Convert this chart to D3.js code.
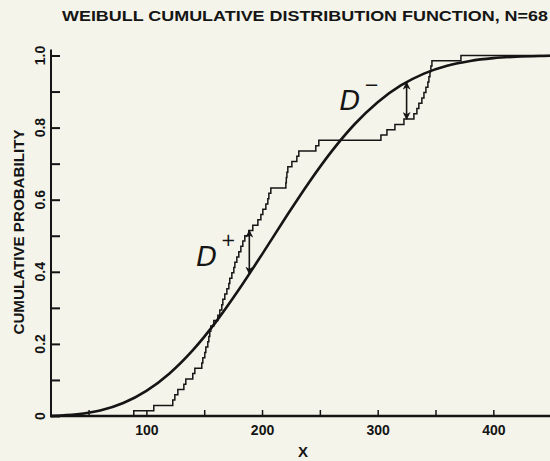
<!DOCTYPE html>
<html>
<head>
<meta charset="utf-8">
<script src="https://cdn.jsdelivr.net/npm/d3@7"></script>
<style>
  html, body { margin: 0; padding: 0; background: #f4f4ea; }
  svg { display: block; }
  text { font-family: "Liberation Sans", Arial, sans-serif; fill: #151515; }
</style>
</head>
<body>
<svg id="chart" width="550" height="461"></svg>
<script>
// Sorted observations (N = 68) behind the empirical CDF
const sampleValues = [
  89.1, 106.4, 122.8, 124.6, 127.2, 132.4, 134.1, 140.1, 141.9, 147.9,
  148.8, 150.5, 151.4, 153.1, 154.0, 154.8, 155.7, 158.3, 161.8, 163.5,
  165.2, 166.1, 167.8, 169.6, 171.3, 172.1, 173.9, 175.6, 176.5, 178.2,
  179.9, 181.7, 183.4, 185.1, 188.6, 192.0, 196.4, 199.0, 200.7, 203.3,
  205.0, 205.9, 207.6, 220.6, 221.0, 221.5, 222.3, 225.8, 230.1, 231.8,
  246.5, 249.1, 302.8, 308.0, 314.9, 322.7, 331.3, 333.9, 335.6, 338.2,
  340.0, 341.7, 343.4, 344.3, 345.2, 346.0, 346.9, 372.0
];

// Fitted Weibull CDF, tabulated along x
const curveX = [17, 20, 40, 60, 80, 100, 120, 140, 160, 180, 200, 220, 240,
                260, 280, 300, 320, 340, 360, 380, 400, 420, 440, 449];
const curveP = [0.0003, 0.0005, 0.0044, 0.0151, 0.0359, 0.0697, 0.1181, 0.1820,
                0.2604, 0.3507, 0.4484, 0.5485, 0.6452, 0.7334, 0.8093, 0.8706,
                0.9169, 0.9498, 0.9716, 0.9850, 0.9926, 0.9966, 0.9986, 0.9991];

// Axis ticks and labels
const xTickValues = [50, 100, 150, 200, 250, 300, 350, 400];
const xLabelValues = [100, 200, 300, 400];
const yTickValues = [0, 0.1, 0.2, 0.3, 0.4, 0.5, 0.6, 0.7, 0.8, 0.9, 1.0];
const yLabelValues = [0, 0.2, 0.4, 0.6, 0.8, 1.0];
const yLabelText = ["0", "0.2", "0.4", "0.6", "0.8", "1.0"];

// Locations of the one-sided K-S distances
const dPlusAt = 189;
const dMinusAt = 325;

const titleText = "WEIBULL  CUMULATIVE  DISTRIBUTION  FUNCTION,  N=68";
const yTitle = "CUMULATIVE  PROBABILITY";
const xTitle = "X";

const ink = "#151515";
const n = sampleValues.length;

const svg = d3.select("#chart");

const x = d3.scaleLinear().domain([17, 449]).range([50.4, 550]);
const y = d3.scaleLinear().domain([0, 1]).range([416, 55.5]);

// Title
svg.append("text")
  .attr("x", 62).attr("y", 20.5)
  .attr("textLength", 486).attr("lengthAdjust", "spacingAndGlyphs")
  .style("font-size", "15.5px")
  .style("font-weight", "bold")
  .text(titleText);

// Y axis: ticks point into the plot, labels rotated
const yAxis = d3.axisLeft(y).tickValues(yTickValues).tickSize(-9).tickFormat("");
const gy = svg.append("g").attr("transform", "translate(51,0)").call(yAxis);
gy.select(".domain").remove();
gy.selectAll(".tick line").attr("stroke", ink).attr("stroke-width", 2);
svg.append("line")
  .attr("x1", 51).attr("x2", 51)
  .attr("y1", y(1) - 6).attr("y2", y(0) + 1)
  .attr("stroke", ink).attr("stroke-width", 2);

svg.append("g").selectAll("text")
  .data(yLabelValues)
  .join("text")
  .attr("transform", (d) => `translate(45,${y(d)}) rotate(-90)`)
  .attr("text-anchor", "middle")
  .style("font-size", "14px")
  .style("font-weight", "bold")
  .text((d, i) => yLabelText[i]);

svg.append("text")
  .attr("transform", "translate(24,232) rotate(-90)")
  .attr("text-anchor", "middle")
  .attr("textLength", 205).attr("lengthAdjust", "spacingAndGlyphs")
  .style("font-size", "14.5px")
  .style("font-weight", "bold")
  .text(yTitle);

// X axis: short ticks upward, labels every 100
const xAxis = d3.axisBottom(x)
  .tickValues(xTickValues)
  .tickSize(-6)
  .tickPadding(9)
  .tickFormat((d) => (xLabelValues.includes(d) ? String(d) : ""));
const gx = svg.append("g").attr("transform", `translate(0,${y(0)})`).call(xAxis);
gx.select(".domain").remove();
gx.selectAll(".tick line").attr("stroke", ink).attr("stroke-width", 1.5);
gx.selectAll(".tick text")
  .attr("fill", ink)
  .style("font-family", "Liberation Sans, Arial, sans-serif")
  .style("font-size", "14px")
  .style("font-weight", "bold");
svg.append("line")
  .attr("x1", 50).attr("x2", 550)
  .attr("y1", y(0)).attr("y2", y(0))
  .attr("stroke", ink).attr("stroke-width", 2.6);

svg.append("text")
  .attr("x", 303).attr("y", 457)
  .attr("text-anchor", "middle")
  .style("font-size", "15px")
  .style("font-weight", "bold")
  .text(xTitle);

// Weibull CDF curve
const curvePts = curveX.map((v, i) => [v, curveP[i]]);
svg.append("path")
  .datum(curvePts)
  .attr("fill", "none")
  .attr("stroke", ink)
  .attr("stroke-width", 2.6)
  .attr("d", d3.line().x((d) => x(d[0])).y((d) => y(d[1])).curve(d3.curveMonotoneX));

// Empirical CDF step function
const ecdfPts = [[17, 0]]
  .concat(sampleValues.map((v, i) => [v, (i + 1) / n]))
  .concat([[449, 1]]);
svg.append("path")
  .datum(ecdfPts)
  .attr("fill", "none")
  .attr("stroke", ink)
  .attr("stroke-width", 1.5)
  .attr("stroke-linejoin", "miter")
  .attr("d", d3.line().x((d) => x(d[0])).y((d) => y(d[1])).curve(d3.curveStepAfter));

// Helpers to evaluate the two CDFs
const ecdfAt = (v) => sampleValues.filter((s) => s <= v).length / n;
const curveAt = d3.scaleLinear().domain(curveX).range(curveP);

// Arrowheads
const defs = svg.append("defs");
defs.append("marker")
  .attr("id", "head")
  .attr("viewBox", "0 0 10 10")
  .attr("refX", 9).attr("refY", 5)
  .attr("markerWidth", 8).attr("markerHeight", 8)
  .attr("markerUnits", "userSpaceOnUse")
  .attr("orient", "auto-start-reverse")
  .append("path")
  .attr("d", "M0,0 L10,5 L0,10 L3,5 z")
  .attr("fill", ink);

function distanceArrow(v, pTop, pBottom) {
  svg.append("line")
    .attr("x1", x(v)).attr("x2", x(v))
    .attr("y1", y(pTop)).attr("y2", y(pBottom))
    .attr("stroke", ink).attr("stroke-width", 1.6)
    .attr("marker-start", "url(#head)")
    .attr("marker-end", "url(#head)");
}

// D+ : empirical above fitted
distanceArrow(dPlusAt, ecdfAt(dPlusAt), curveAt(dPlusAt));
// D- : fitted above empirical
distanceArrow(dMinusAt, curveAt(dMinusAt), ecdfAt(dMinusAt));

const handStyle = (sel) => sel
  .style("font-family", "DejaVu Sans, sans-serif")
  .style("font-style", "italic")
  .style("font-weight", "normal");

const xp = x(dPlusAt);
svg.append("text")
  .attr("x", xp - 53).attr("y", 266)
  .style("font-size", "27px")
  .call(handStyle)
  .text("D");
svg.append("text")
  .attr("x", xp - 21).attr("y", 246)
  .attr("text-anchor", "middle")
  .style("font-size", "18px")
  .call(handStyle)
  .text("+");

const xm = x(dMinusAt);
svg.append("text")
  .attr("x", xm - 67).attr("y", 110)
  .style("font-size", "27px")
  .call(handStyle)
  .text("D");
svg.append("text")
  .attr("x", xm - 35).attr("y", 91)
  .attr("text-anchor", "middle")
  .style("font-size", "18px")
  .call(handStyle)
  .text("\u2212");
</script>
</body>
</html>
